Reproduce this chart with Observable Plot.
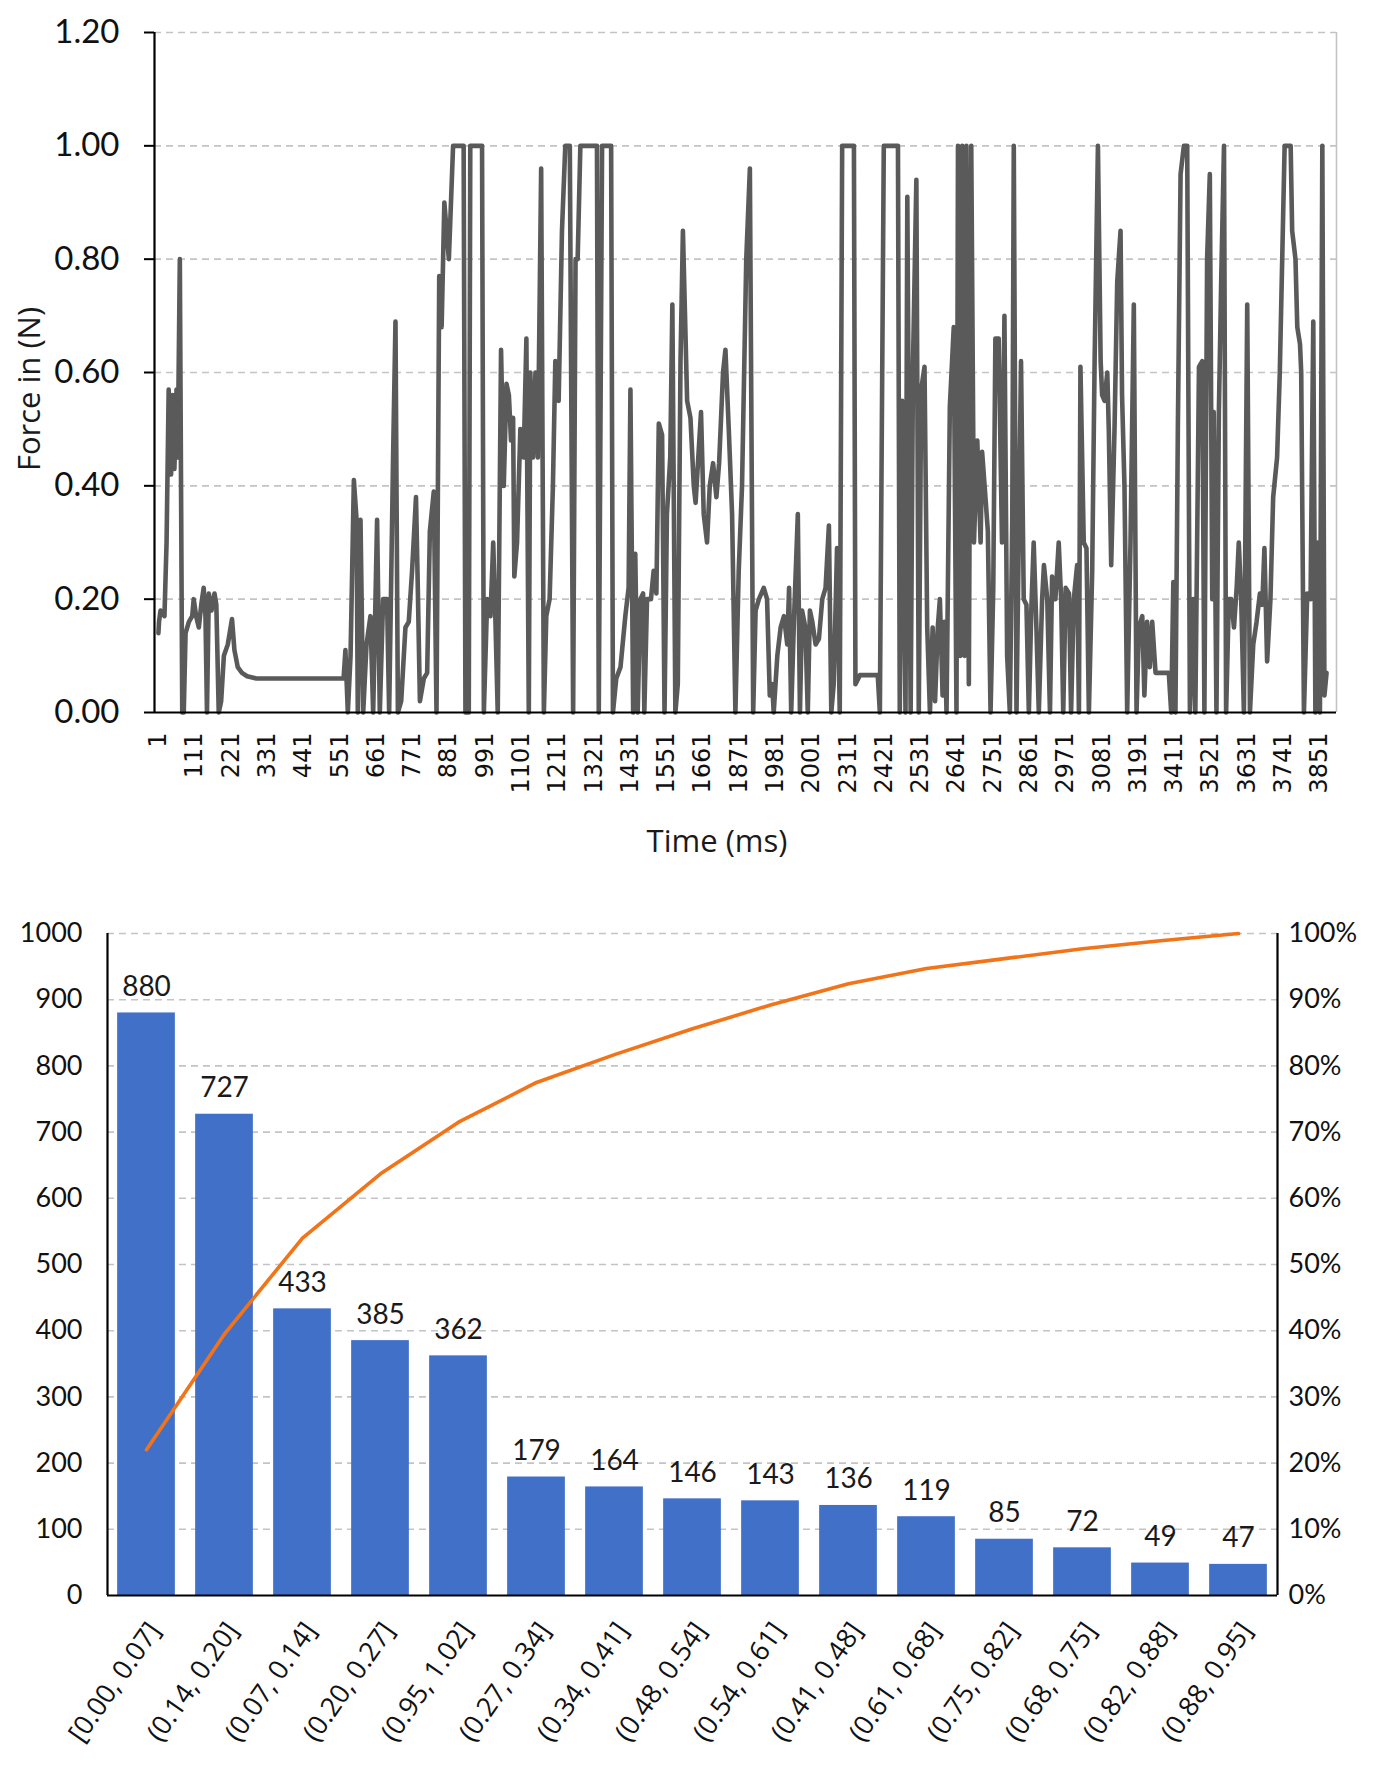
<!DOCTYPE html>
<html>
<head>
<meta charset="utf-8">
<script src="https://cdn.jsdelivr.net/npm/d3@7"></script>
<script src="https://cdn.jsdelivr.net/npm/@observablehq/plot@0.6"></script>
<style>
  body { margin: 0; background: #fff; }
  #wrap { position: relative; width: 1374px; height: 1767px; overflow: hidden; background: #fff; }
  .title { position: absolute; font-family: "Open Sans", sans-serif; color: #1a1a1a; white-space: nowrap; }
  #c1 { position: absolute; left: 0; top: 0; }
  #c2 { position: absolute; left: 0; top: 880px; }
</style>
</head>
<body>
<div id="wrap">
  <div id="c1"></div>
  <div class="title" id="ytitle" style="left:28px;top:389px;font-size:31px;transform:translate(-50%,-50%) rotate(-90deg);">Force in (N)</div>
  <div class="title" id="xtitle" style="left:717px;top:840px;font-size:31px;transform:translate(-50%,-50%);">Time (ms)</div>
  <div id="c2"></div>
</div>
<script>
// ---------- Top chart data: force trace ----------
const timeMs = [1,3,8,21,28,35,43,48,54,61,65,72,80,85,91,102,113,118,126,135,143,151,157,162,168,177,187,193,201,209,218,231,245,253,264,278,295,326,615,621,629,638,649,658,662,671,680,691,704,713,726,735,746,759,766,779,787,795,806,820,831,842,855,861,868,881,892,901,914,923,932,940,949,964,978,1013,1019,1030,1035,1074,1080,1091,1102,1111,1118,1126,1137,1146,1155,1163,1170,1177,1181,1190,1201,1212,1221,1229,1234,1243,1251,1259,1270,1279,1287,1298,1309,1317,1328,1339,1350,1365,1376,1384,1391,1400,1455,1461,1472,1502,1508,1519,1533,1549,1560,1566,1575,1582,1590,1599,1608,1612,1621,1634,1643,1652,1660,1671,1679,1687,1698,1705,1715,1723,1732,1740,1754,1765,1776,1782,1791,1800,1809,1820,1829,1840,1851,1860,1873,1881,1892,1903,1914,1925,1936,1950,1962,1973,1981,1992,2008,2019,2028,2036,2041,2053,2064,2075,2086,2092,2099,2108,2121,2128,2135,2146,2154,2161,2169,2180,2191,2202,2213,2224,2232,2240,2251,2260,2268,2307,2312,2327,2386,2393,2406,2453,2459,2467,2478,2484,2495,2503,2514,2522,2530,2541,2550,2559,2568,2576,2585,2592,2601,2607,2614,2625,2638,2647,2652,2660,2666,2674,2680,2688,2696,2705,2716,2727,2732,2743,2751,2760,2769,2776,2787,2798,2806,2815,2824,2832,2837,2846,2861,2870,2879,2887,2895,2903,2912,2920,2931,2937,2948,2957,2964,2975,2986,2994,3001,3009,3020,3027,3036,3047,3053,3058,3069,3078,3086,3097,3105,3116,3125,3130,3138,3147,3152,3160,3171,3180,3191,3196,3204,3213,3224,3235,3244,3252,3263,3270,3279,3288,3296,3307,3351,3359,3366,3373,3381,3390,3401,3412,3421,3432,3439,3451,3462,3469,3478,3487,3495,3500,3509,3517,3525,3534,3541,3550,3558,3567,3576,3583,3591,3600,3611,3620,3631,3642,3653,3661,3668,3677,3688,3697,3710,3719,3727,3735,3755,3760,3771,3777,3786,3790,3799,3810,3821,3830,3837,3845,3852,3860,3867,3874];
const forceN = [0.14,0.16,0.18,0.17,0.30,0.57,0.42,0.56,0.43,0.57,0.45,0.80,0,0,0.14,0.16,0.17,0.20,0.17,0.15,0.19,0.22,0.17,0,0.21,0.18,0.21,0.19,0,0.02,0.10,0.12,0.165,0.11,0.08,0.07,0.064,0.06,0.06,0.11,0,0.10,0.41,0.34,0,0.34,0,0.12,0.17,0,0.34,0,0.20,0.20,0,0.45,0.69,0,0.02,0.15,0.16,0.25,0.38,0.22,0.02,0.06,0.07,0.32,0.39,0,0.77,0.68,0.90,0.80,1.0,1.0,0,0,1.0,1.0,0,0.20,0.17,0.30,0.17,0,0.64,0.40,0.58,0.56,0.48,0.52,0.24,0.30,0.50,0.45,0.66,0,0.60,0.45,0.60,0.45,0.96,0,0.17,0.20,0.40,0.62,0.55,0.85,1.0,1.0,0,0.80,0.80,1.0,1.0,0,1.0,1.0,0,0.06,0.08,0.17,0.22,0.57,0,0.28,0,0.20,0.21,0,0.20,0.20,0.25,0.21,0.51,0.49,0,0.35,0.45,0.72,0,0.05,0.62,0.85,0.55,0.52,0.40,0.37,0.45,0.53,0.35,0.30,0.40,0.44,0.38,0.44,0.60,0.64,0.50,0.35,0,0.25,0.40,0.80,0.96,0,0.18,0.20,0.22,0.20,0.03,0.05,0,0.10,0.15,0.17,0.12,0.22,0,0.16,0.35,0,0.18,0.15,0,0.18,0.16,0.12,0.13,0.20,0.22,0.33,0,0.05,0.29,0,1.0,1.0,0.05,0.066,0.066,0,1.0,1.0,0,0.55,0,0.91,0,0.62,0.94,0,0.57,0.61,0.15,0,0.15,0.02,0.15,0.20,0.03,0.16,0,0.54,0.68,0,1.0,0.10,1.0,0.10,1.0,0.05,1.0,0.30,0.48,0.30,0.46,0.38,0.32,0,0.22,0.66,0.66,0.30,0.70,0.10,0,0.34,1.0,0,0.62,0.20,0.19,0,0.18,0.30,0.15,0,0.20,0.26,0.20,0,0.24,0.20,0.30,0.20,0,0.22,0.21,0,0.20,0.26,0,0.61,0.30,0.29,0,0.25,0.62,1.0,0.62,0.56,0.55,0.60,0.50,0.26,0.50,0.76,0.85,0.56,0.40,0,0.30,0.72,0,0.15,0.17,0.03,0.16,0.08,0.16,0.07,0.07,0,0.23,0,0.50,0.95,1.0,1.0,0,0.20,0,0.61,0.62,0,0.80,0.95,0.20,0.53,0,0.53,0.77,1.0,0,0.20,0.20,0.15,0.22,0.30,0.20,0,0.72,0,0.12,0.16,0.21,0.19,0.29,0.09,0.20,0.38,0.45,0.60,0.80,1.0,1.0,0.85,0.80,0.68,0.65,0.60,0,0.21,0.20,0.69,0,0.30,0,1.0,0.03,0.07];
const forceTicks = [0, 0.2, 0.4, 0.6, 0.8, 1.0, 1.2];
const timeTickLabels = ["1","111","221","331","441","551","661","771","881","991","1101","1211","1321","1431","1551","1661","1871","1981","2001","2311","2421","2531","2641","2751","2861","2971","3081","3191","3411","3521","3631","3741","3851"];

// ---------- Bottom chart data ----------
const binLabels = ["[0.00, 0.07]","(0.14, 0.20]","(0.07, 0.14]","(0.20, 0.27]","(0.95, 1.02]","(0.27, 0.34]","(0.34, 0.41]","(0.48, 0.54]","(0.54, 0.61]","(0.41, 0.48]","(0.61, 0.68]","(0.75, 0.82]","(0.68, 0.75]","(0.82, 0.88]","(0.88, 0.95]"];
const binCounts = [880,727,433,385,362,179,164,146,143,136,119,85,72,49,47];
const cumulativePct = [22,39.5,54,63.7,71.5,77.5,81.7,85.6,89.2,92.4,94.7,96.2,97.7,98.9,100];
const countTicks = [0,100,200,300,400,500,600,700,800,900,1000];

// ---------- Build tables ----------
const series = timeMs.map((t, i) => ({t, v: forceN[i]}));
const tStart = 1, tEnd = 3851;
const tickRows = timeTickLabels.map((s, k) => ({pos: tStart + k * (tEnd - tStart) / (timeTickLabels.length - 1), s}));
const tickMap = new Map(tickRows.map(d => [d.pos, d.s]));
const xDom = [-12, 3907];
const gridStyle = {stroke: "#c4c4c4", strokeOpacity: 1, strokeDasharray: "7,5", strokeWidth: 1.6};

const chart1 = Plot.plot({
  width: 1374, height: 880,
  marginLeft: 154, marginRight: 38, marginTop: 32, marginBottom: 168,
  style: {fontFamily: "Lato, sans-serif", color: "#111", background: "transparent"},
  x: {domain: xDom},
  y: {domain: [0, 1.2]},
  marks: [
    Plot.gridY(forceTicks.slice(1), gridStyle),
    Plot.ruleX([xDom[1]], {y1: 0, y2: 1.2, stroke: "#c4c4c4", strokeWidth: 1.6}),
    Plot.line(series, {x: "t", y: "v", stroke: "#5a5a5a", strokeWidth: 4.6, strokeLinejoin: "round", strokeLinecap: "round"}),
    Plot.ruleY([0], {stroke: "#000", strokeWidth: 2.2}),
    Plot.ruleX([xDom[0]], {y1: 0, y2: 1.2, stroke: "#000", strokeWidth: 2.2}),
    Plot.axisY({ticks: forceTicks, tickFormat: d => d.toFixed(2), tickSize: 10, tickPadding: 25, fontSize: 33, label: null, stroke: "#000", strokeWidth: 2}),
    Plot.axisX({ticks: tickRows.map(d => d.pos), tickFormat: d => tickMap.get(d), tickRotate: -90, tickSize: 0, tickPadding: 20, fontSize: 24, fontFamily: "DejaVu Sans, sans-serif", label: null})
  ]
});
document.getElementById("c1").appendChild(chart1);

const bars = binLabels.map((c, i) => ({i, c, n: binCounts[i], cum: cumulativePct[i]}));
const half = 0.37;
const chart2 = Plot.plot({
  width: 1374, height: 887,
  marginLeft: 107, marginRight: 97, marginTop: 53, marginBottom: 172,
  style: {fontFamily: "Lato, sans-serif", color: "#111", background: "transparent"},
  x: {domain: [-0.5, binLabels.length - 0.5]},
  y: {domain: [0, 1000]},
  marks: [
    Plot.gridY(countTicks.slice(1), gridStyle),
    Plot.rectY(bars, {x1: d => d.i - half, x2: d => d.i + half, y: "n", fill: "#4170c8"}),
    Plot.text(bars, {x: "i", y: "n", text: d => String(d.n), lineAnchor: "bottom", dy: -17, fontSize: 28, fill: "#1a1a1a"}),
    Plot.line(bars, {x: "i", y: d => d.cum * 10, stroke: "#f27318", strokeWidth: 3.6, strokeLinejoin: "round"}),
    Plot.ruleY([0], {stroke: "#000", strokeWidth: 2.2}),
    Plot.ruleX([-0.5, binLabels.length - 0.5], {y1: 0, y2: 1000, stroke: "#000", strokeWidth: 2.2}),
    Plot.axisY({anchor: "left", ticks: countTicks, tickFormat: d => String(d), tickSize: 0, tickPadding: 25, fontSize: 27, label: null}),
    Plot.axisY({anchor: "right", ticks: countTicks, tickFormat: d => (d / 10) + "%", tickSize: 0, tickPadding: 11, fontSize: 27, label: null}),
    Plot.axisX({ticks: bars.map(d => d.i), tickFormat: i => binLabels[i], tickRotate: -55, tickSize: 0, tickPadding: 30, dx: 8, fontSize: 27, fontFamily: "Open Sans, sans-serif", label: null})
  ]
});
document.getElementById("c2").appendChild(chart2);
</script>
</body>
</html>
